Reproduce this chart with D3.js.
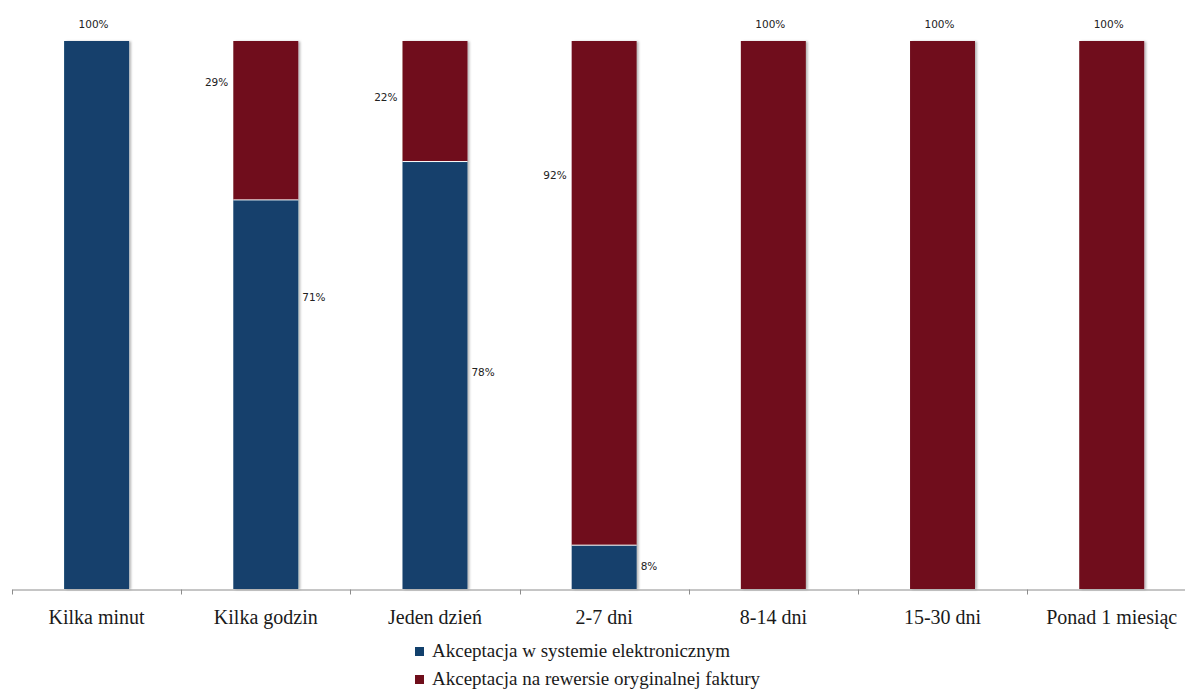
<!DOCTYPE html>
<html>
<head>
<meta charset="utf-8">
<script src="https://cdn.jsdelivr.net/npm/d3@7/dist/d3.min.js"></script>
<style>
  html, body { margin: 0; padding: 0; background: #fff; }
  svg { display: block; }
</style>
</head>
<body>
<svg id="chart" width="1185" height="693"></svg>
<script>
// Czas akceptacji faktury: udział wg sposobu akceptacji (%)
const categories = ["Kilka minut", "Kilka godzin", "Jeden dzień", "2-7 dni", "8-14 dni", "15-30 dni", "Ponad 1 miesiąc"];
const electronic = [100, 71, 78, 8, 0, 0, 0];
const paper      = [0, 29, 22, 92, 100, 100, 100];
const seriesNames = ["Akceptacja w systemie elektronicznym", "Akceptacja na rewersie oryginalnej faktury"];
// value-axis level at which the side labels sit (null = label above the bar)
const electronicLabelAt = [null, 53.3, 39.6, 4.2, null, null, null];
const paperLabelAt      = [null, 92.5, 89.8, 75.5, null, null, null];

const colors = ["#12406c", "#6f0e1b"];

const svg = d3.select("#chart");
const plot = { left: 12, right: 1196.3, top: 41, bottom: 589 };

const x = d3.scaleBand().domain(categories).range([plot.left, plot.right])
  .paddingInner(0.616).paddingOuter(0.308);
const y = d3.scaleLinear().domain([0, 100]).range([plot.bottom, plot.top]);

const defs = svg.append("defs");
const f = defs.append("filter").attr("id", "shadow").attr("x", "-20%").attr("y", "-5%").attr("width", "150%").attr("height", "110%");
f.append("feDropShadow").attr("dx", 2).attr("dy", 0.5).attr("stdDeviation", 1.2)
  .attr("flood-color", "#000").attr("flood-opacity", 0.28);

const rows = categories.map((c, i) => ({ c, e: electronic[i], p: paper[i], i }));

const bars = svg.append("g").attr("filter", "url(#shadow)");
rows.forEach(d => {
  const g = bars.append("g");
  if (d.e > 0) {
    g.append("rect").attr("x", x(d.c)).attr("width", x.bandwidth())
      .attr("y", y(d.e)).attr("height", y(0) - y(d.e)).attr("fill", colors[0]);
  }
  if (d.p > 0) {
    g.append("rect").attr("x", x(d.c)).attr("width", x.bandwidth())
      .attr("y", y(d.e + d.p)).attr("height", y(d.e) - y(d.e + d.p)).attr("fill", colors[1]);
  }
  if (d.e > 0 && d.p > 0) {
    g.append("line").attr("x1", x(d.c)).attr("x2", x(d.c) + x.bandwidth())
      .attr("y1", y(d.e)).attr("y2", y(d.e)).attr("stroke", "#fff").attr("stroke-width", 1);
  }
});

// x axis
const axis = d3.axisBottom(x).tickSize(0).tickPadding(0).tickFormat("");
const ax = svg.append("g").attr("transform", `translate(0,${plot.bottom + 0.5})`).call(axis);
ax.select(".domain").attr("stroke", "#8c8c8c").attr("stroke-width", 1);
ax.selectAll(".tick").remove();
const step = x.step();
d3.range(categories.length + 1).forEach(k => {
  const tx = Math.round(plot.left + k * step) + 0.5;
  ax.append("line").attr("x1", tx).attr("x2", tx).attr("y1", 0).attr("y2", 5)
    .attr("stroke", "#8c8c8c");
});

// category labels
svg.append("g").selectAll("text").data(categories).join("text")
  .attr("x", d => x(d) + x.bandwidth() / 2)
  .attr("y", 624)
  .attr("text-anchor", "middle")
  .attr("font-family", "'Liberation Serif', serif")
  .attr("font-size", 20)
  .attr("fill", "#1a1a1a")
  .text(d => d);

// data labels
const lab = svg.append("g").attr("font-family", "'DejaVu Sans', sans-serif")
  .attr("font-size", 10.5).attr("fill", "#222");
rows.forEach(d => {
  const cx = x(d.c), w = x.bandwidth();
  if (d.e === 100 || d.p === 100) {
    lab.append("text").attr("x", cx + w / 2 - 3).attr("y", y(100) - 13)
      .attr("text-anchor", "middle").text("100%");
    return;
  }
  if (d.p > 0) {
    lab.append("text").attr("x", cx - 5).attr("y", y(paperLabelAt[d.i]))
      .attr("dy", "0.35em").attr("text-anchor", "end").text(d.p + "%");
  }
  if (d.e > 0) {
    lab.append("text").attr("x", cx + w + 4).attr("y", y(electronicLabelAt[d.i]))
      .attr("dy", "0.35em").attr("text-anchor", "start").text(d.e + "%");
  }
});

// legend
const lg = svg.append("g").attr("transform", "translate(415,647)");
seriesNames.forEach((n, k) => {
  const row = lg.append("g").attr("transform", `translate(0,${k * 28})`);
  row.append("rect").attr("width", 9).attr("height", 9).attr("fill", colors[k]);
  row.append("text").attr("x", 17).attr("y", 10)
    .attr("font-family", "'Liberation Serif', serif")
    .attr("font-size", 19)
    .attr("fill", "#1a1a1a")
    .text(n);
});
</script>
</body>
</html>
